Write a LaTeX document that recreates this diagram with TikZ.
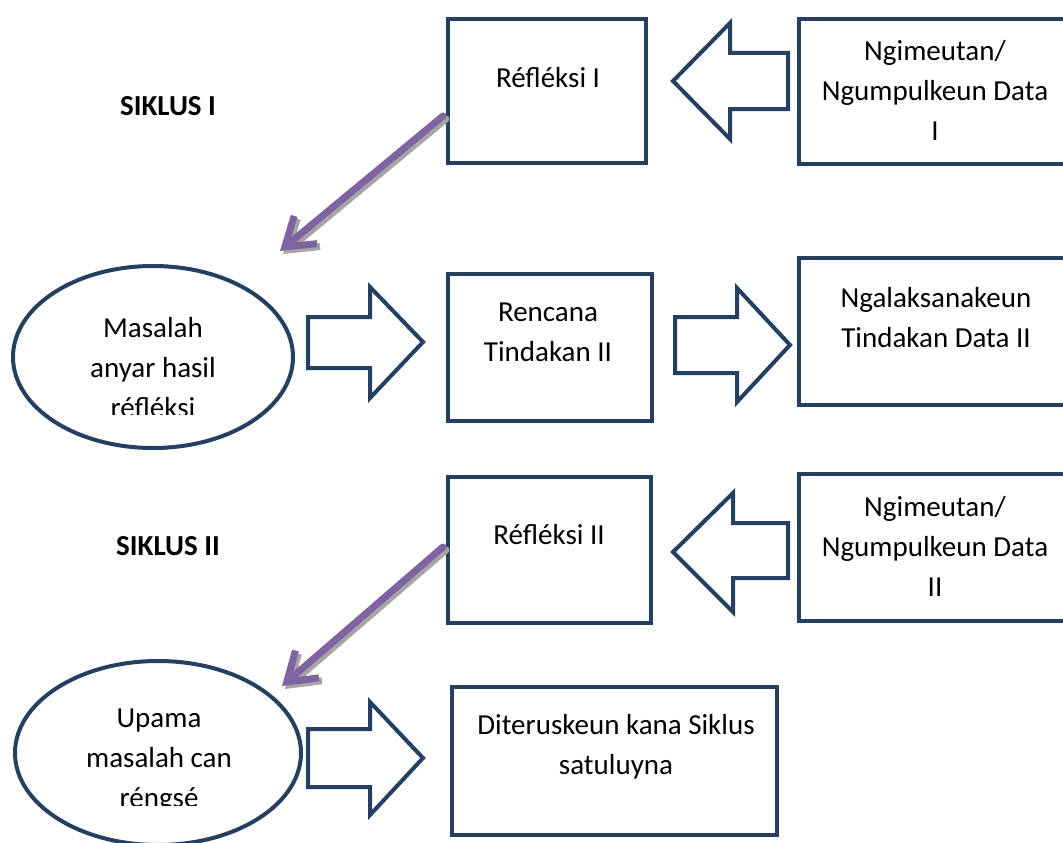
\documentclass[tikz,border=0pt]{standalone}
\usepackage{fontspec}
\setmainfont{Carlito}
\usetikzlibrary{shapes.geometric,arrows.meta}
\definecolor{navy}{HTML}{243F60}
\definecolor{purp}{HTML}{8064A2}
\definecolor{shad}{HTML}{A6A6A6}
\tikzset{
  x=1pt, y=-1pt,
  boxnode/.style={draw=navy, line width=4pt, fill=white, rectangle, inner sep=0pt, outer sep=0pt},
  ovalnode/.style={draw=navy, line width=4pt, fill=white, ellipse, inner sep=0pt, outer sep=0pt},
  txt/.style={align=center, font=\fontsize{29}{40}\selectfont, inner sep=0pt},
  bold/.style={font=\fontsize{29}{40}\selectfont\bfseries, inner sep=0pt},
  blockarrow/.style={draw=navy, line width=4pt, fill=white, line join=miter},
  purparrow/.style={draw=purp, line width=7pt, line cap=round, -{Straight Barb[length=27pt, width=36pt]}},
  shadarrow/.style={draw=shad, line width=7pt, line cap=round, -{Straight Barb[length=27pt, width=36pt]}},
}
\begin{document}
\begin{tikzpicture}
\useasboundingbox (0,0) rectangle (1063,843);
\fill[white] (0,0) rectangle (1063,843);

% boxes
\node[boxnode, minimum width=198pt, minimum height=144pt] (b1) at (547,91) {};
\node[boxnode, minimum width=290pt, minimum height=145pt] (b2) at (944,91.5) {};
\node[boxnode, minimum width=204pt, minimum height=147pt] (b3) at (550,347.5) {};
\node[boxnode, minimum width=290pt, minimum height=147pt] (b4) at (944,331.5) {};
\node[boxnode, minimum width=203pt, minimum height=146pt] (b5) at (549.5,550) {};
\node[boxnode, minimum width=290pt, minimum height=147pt] (b6) at (944,547.5) {};
\node[boxnode, minimum width=325pt, minimum height=148pt] (b7) at (614.5,761) {};

% ellipses
\node[ovalnode, minimum width=280pt, minimum height=182pt] (e1) at (153,357) {};
\node[ovalnode, minimum width=286pt, minimum height=184pt] (e2) at (158,753) {};

% block arrows
\draw[blockarrow] (788,53) -- (730,53) -- (730,23) -- (673,81) -- (730,139) -- (730,109) -- (788,109) -- cycle;
\draw[blockarrow] (308,317) -- (370,317) -- (370,287) -- (423,342) -- (370,398) -- (370,368) -- (308,368) -- cycle;
\draw[blockarrow] (675,317) -- (737,317) -- (737,288) -- (790,345) -- (737,402) -- (737,373) -- (675,373) -- cycle;
\draw[blockarrow] (788,523) -- (733,523) -- (733,493) -- (673,552) -- (733,612) -- (733,578) -- (788,578) -- cycle;
\draw[blockarrow] (308,729) -- (370,729) -- (370,702) -- (423,758) -- (370,815) -- (370,787) -- (308,787) -- cycle;

% purple arrows
\coordinate (p1s) at (443,116);
\coordinate (p1e) at (280,251);
\coordinate (p2s) at (443,547);
\coordinate (p2e) at (282,686);
\draw[shadarrow] ([shift={(3,3)}]p1s) -- ([shift={(3,3)}]p1e);
\draw[purparrow] (p1s) -- (p1e);
\draw[shadarrow] ([shift={(3,3)}]p2s) -- ([shift={(3,3)}]p2e);
\draw[purparrow] (p2s) -- (p2e);

% texts
\node[bold] (s1) at (168,106) {SIKLUS I};
\node[bold] (s2) at (168,546) {SIKLUS II};
\node[txt] (t1) at (548,78) {Réfléksi I};
\node[txt] (t2) at (935,90) {Ngimeutan/\\Ngumpulkeun Data\\I};
\node[txt] (t3) at (548,332) {Rencana\\Tindakan II};
\node[txt] (t4) at (936,318) {Ngalaksanakeun\\Tindakan Data II};
\node[txt] (t5) at (549,535) {Réfléksi II};
\node[txt] (t6) at (935,546) {Ngimeutan/\\Ngumpulkeun Data\\II};
\node[txt] (t7) at (616,747) {Diteruskeun kana Siklus\\satuluyna};
\begin{scope}
\clip (0,0) rectangle (1063,414);
\node[txt] (t8) at (153,368) {Masalah\\anyar hasil\\réfléksi};
\end{scope}
\begin{scope}
\clip (0,0) rectangle (1063,805);
\node[txt] (t9) at (159,761) {Upama\\masalah can\\réngsé};
\end{scope}
\end{tikzpicture}
\end{document}
